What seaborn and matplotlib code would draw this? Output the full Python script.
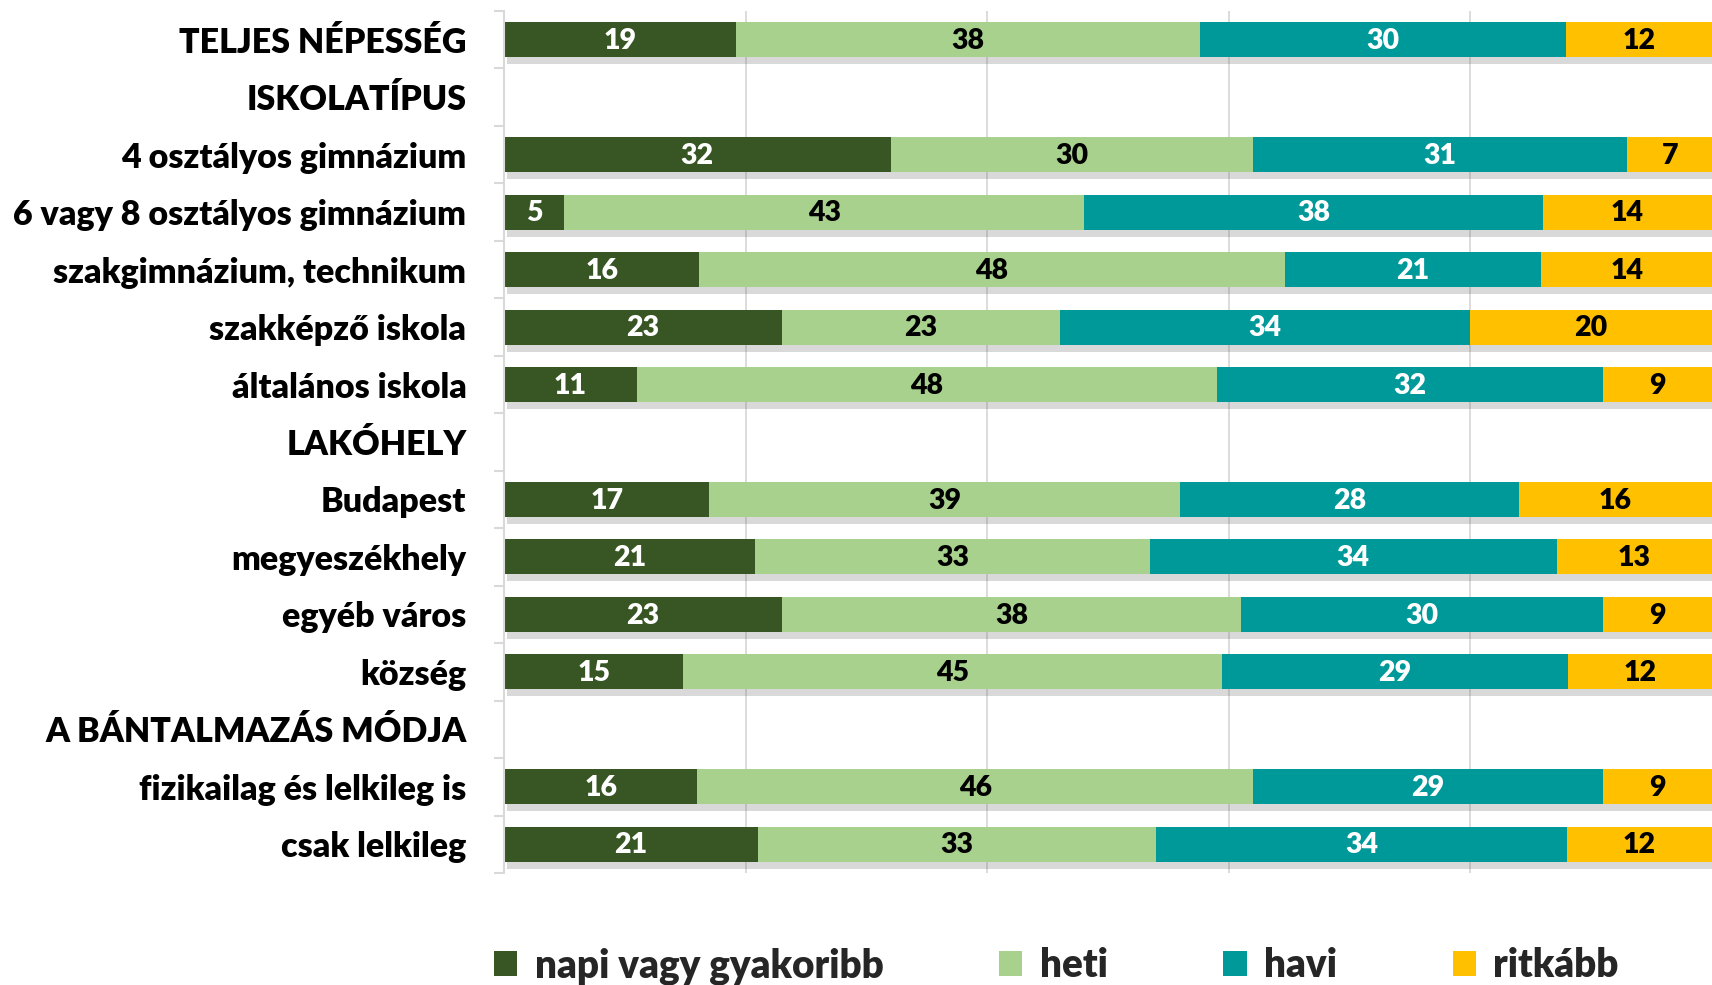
import numpy as np
import pandas as pd
import matplotlib
matplotlib.use("Agg")
import matplotlib.pyplot as plt
import seaborn as sns
from matplotlib import patheffects as pe
from matplotlib.patches import Patch

nan = np.nan
categories = [
    "TELJES NÉPESSÉG", "ISKOLATÍPUS", "4 osztályos gimnázium",
    "6 vagy 8 osztályos gimnázium", "szakgimnázium, technikum",
    "szakképző iskola", "általános iskola", "LAKÓHELY", "Budapest",
    "megyeszékhely", "egyéb város", "község", "A BÁNTALMAZÁS MÓDJA",
    "fizikailag és lelkileg is", "csak lelkileg",
]
napi = [19, nan, 32, 5, 16, 23, 11, nan, 17, 21, 23, 15, nan, 16, 21]
heti = [38, nan, 30, 43, 48, 23, 48, nan, 39, 33, 38, 45, nan, 46, 33]
havi = [30, nan, 31, 38, 21, 34, 32, nan, 28, 34, 30, 29, nan, 29, 34]
ritkabb = [12, nan, 7, 14, 14, 20, 9, nan, 16, 13, 9, 12, nan, 9, 12]
series_names = ["napi vagy gyakoribb", "heti", "havi", "ritkább"]
colors = ["#375623", "#A9D18E", "#009999", "#FFC000"]
text_colors = ["white", "black", "white", "black"]

sns.set_theme(style="white")
plt.rcParams["font.family"] = ["Lato", "DejaVu Sans"]
plt.rcParams["font.weight"] = "bold"

vals = np.array([napi, heti, havi, ritkabb], dtype=float)
tot = np.nansum(vals, axis=0)
tot[tot == 0] = np.nan
pct = vals / tot * 100
cum = np.cumsum(pct, axis=0)

fig = plt.figure(figsize=(17.12, 9.85), dpi=100)
ax = fig.add_axes([504 / 1712, 1 - 873 / 985, 1 - 504 / 1712, (873 - 11) / 985])

for i in reversed(range(4)):
    df = pd.DataFrame({"kat": categories, "val": cum[i]})
    n_before = len(ax.patches)
    sns.barplot(data=df, x="val", y="kat", order=categories, orient="h",
                color=colors[i], saturation=1, width=0.61, linewidth=0, ax=ax)
    if i == 3:
        for p in ax.patches[n_before:]:
            p.set_path_effects([pe.SimplePatchShadow(offset=(2, -5), alpha=0.22,
                                                     shadow_rgbFace="#555555"),
                                pe.Normal()])

for i in range(4):
    for j in range(len(categories)):
        v = vals[i, j]
        if np.isnan(v):
            continue
        ax.text(cum[i, j] - pct[i, j] / 2, j + 0.02, f"{int(v)}", ha="center",
                va="center", color=text_colors[i], fontsize=20.5,
                fontweight="heavy", zorder=5)

ax.set_xlim(0, 100)
ax.set_ylim(len(categories) - 0.5, -0.5)
ax.set_xticks([20, 40, 60, 80])
ax.grid(axis="x", color="#D9D9D9", linewidth=1.3)
ax.set_axisbelow(True)
ax.tick_params(axis="x", length=0, labelbottom=False)
for s in ["top", "right", "bottom"]:
    ax.spines[s].set_visible(False)
ax.spines["left"].set_color("#D9D9D9")
ax.spines["left"].set_linewidth(1.5)
ax.set_yticks(np.arange(len(categories)))
ax.set_yticklabels(categories, fontsize=24.5, fontweight="heavy", color="black")
ax.set_yticks(np.arange(len(categories) + 1) - 0.5, minor=True)
ax.tick_params(axis="y", which="major", length=0, pad=27)
ax.tick_params(axis="y", which="minor", length=7, width=1.5, color="#D9D9D9",
               left=True)
ax.set_xlabel("")
ax.set_ylabel("")
if ax.get_legend() is not None:
    ax.get_legend().remove()

handles = [Patch(facecolor=c, edgecolor="none") for c in colors]
fig.legend(handles, series_names,
           loc="center", bbox_to_anchor=(0.617, 1 - 966 / 985), ncol=4,
           frameon=False, handlelength=0.6, handleheight=0.6,
           handletextpad=0.45, columnspacing=3.0,
           prop={"weight": "heavy", "size": 27.8})

fig.savefig("out.png", dpi=100)
